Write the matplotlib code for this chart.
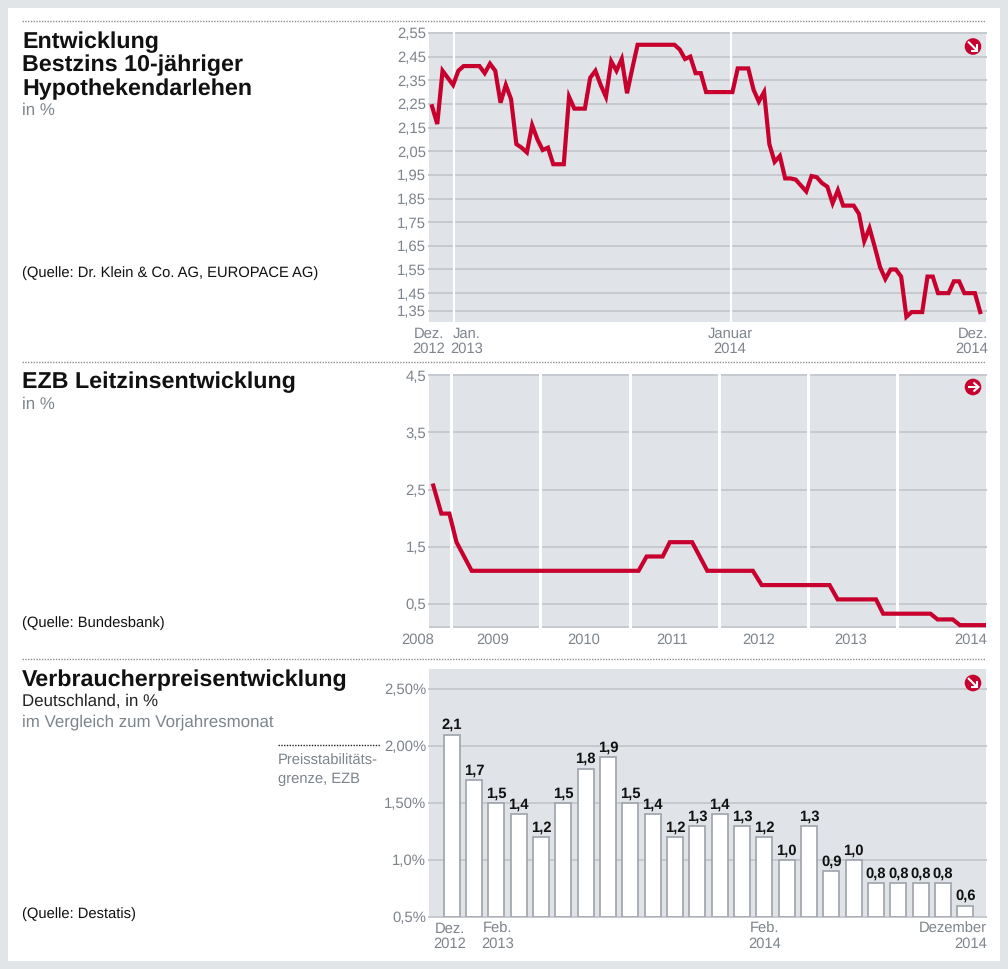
import matplotlib
matplotlib.use('Agg')
import matplotlib.pyplot as plt
from matplotlib.patches import Circle, Rectangle

plt.rcParams['font.family'] = ['Liberation Sans', 'DejaVu Sans']
plt.rcParams['text.hinting'] = 'none'

W, H = 1008, 969
RED = '#c8002e'
PLOT_BG = '#e0e3e7'
GRID = '#c6cace'
GREY_TEXT = '#7d848b'

# weekly rate, Dez. 2012 - Dez. 2014
rate_values = [
    2.24, 2.165, 2.39, 2.36, 2.33, 2.39, 2.41, 2.41, 2.41, 2.41,
    2.38, 2.42, 2.39, 2.255, 2.33, 2.27, 2.08, 2.065, 2.045, 2.16,
    2.10, 2.055, 2.065, 1.995, 1.995, 1.995, 2.28, 2.23, 2.23, 2.23,
    2.36, 2.39, 2.33, 2.28, 2.43, 2.39, 2.44, 2.295, 2.40, 2.50,
    2.50, 2.50, 2.50, 2.50, 2.50, 2.50, 2.50, 2.48, 2.44, 2.45,
    2.38, 2.38, 2.30, 2.30, 2.30, 2.30, 2.30, 2.30, 2.40, 2.40,
    2.40, 2.31, 2.26, 2.30, 2.08, 2.005, 2.03, 1.935, 1.935, 1.93,
    1.905, 1.88, 1.945, 1.94, 1.915, 1.90, 1.83, 1.885, 1.82, 1.82,
    1.82, 1.785, 1.67, 1.725, 1.645, 1.56, 1.51, 1.55, 1.55, 1.52,
    1.35, 1.37, 1.37, 1.37, 1.52, 1.52, 1.45, 1.45, 1.45, 1.50,
    1.50, 1.45, 1.45, 1.45, 1.37,
]
# the reference draws its lowest gridline a little above the true 1,35
rate_tick_values = [2.55, 2.45, 2.35, 2.25, 2.15, 2.05, 1.95, 1.85, 1.75, 1.65, 1.55, 1.45, 1.375]
rate_tick_labels = ['2,55', '2,45', '2,35', '2,25', '2,15', '2,05', '1,95', '1,85', '1,75', '1,65', '1,55', '1,45', '1,35']
rate_year_weeks = [4.1, 56.65]

ecb_years = [2008.80, 2008.89, 2008.98, 2009.06, 2009.23, 2011.10, 2011.19, 2011.37, 2011.45, 2011.70, 2011.87,
             2012.38, 2012.48, 2013.24, 2013.33, 2013.76, 2013.84, 2014.37, 2014.45, 2014.62, 2014.70, 2014.97]
ecb_values = [2.57, 2.08, 2.08, 1.58, 1.08, 1.08, 1.33, 1.33, 1.58, 1.58, 1.08,
              1.08, 0.83, 0.83, 0.58, 0.58, 0.33, 0.33, 0.23, 0.23, 0.13, 0.13]
ecb_tick_values = [4.5, 3.5, 2.5, 1.5, 0.5]
ecb_tick_labels = ['4,5', '3,5', '2,5', '1,5', '0,5']
ecb_year_lines = [2009, 2010, 2011, 2012, 2013, 2014]

cpi_values = [2.1, 1.7, 1.5, 1.4, 1.2, 1.5, 1.8, 1.9, 1.5, 1.4, 1.2, 1.3,
              1.4, 1.3, 1.2, 1.0, 1.3, 0.9, 1.0, 0.8, 0.8, 0.8, 0.8, 0.6]
cpi_tick_values = [2.5, 2.0, 1.5, 1.0, 0.5]
cpi_tick_labels = ['2,50%', '2,00%', '1,50%', '1,0%', '0,5%']


def make_axes(fig, left, top, right, bottom):
    ax = fig.add_axes([left / W, 1 - bottom / H, (right - left) / W, (bottom - top) / H])
    ax.set_facecolor(PLOT_BG)
    for spine in ax.spines.values():
        spine.set_visible(False)
    ax.tick_params(axis='x', length=0, labelbottom=False)
    ax.tick_params(axis='y', length=0, pad=2, labelsize=10.7, labelcolor=GREY_TEXT)
    ax.grid(axis='y', color=GRID, linewidth=1.4, clip_on=False)
    ax.set_axisbelow(True)
    return ax


def x_label(ax, x, text, ha='center'):
    ax.annotate(text, (x, 0), xycoords=ax.get_xaxis_transform(), xytext=(0, -3.5),
                textcoords='offset points', ha=ha, va='top', multialignment=ha,
                fontsize=10.6, color=GREY_TEXT, linespacing=1.08, annotation_clip=False)


def icon(over, x, y, direction):
    over.add_patch(Circle((x, y), 8.3, color=RED, lw=0))
    if direction == 'right':
        shaft = [(x - 5.5, x + 5), (y, y)]
        head = [(x + 0.5, x + 5.5, x + 0.5), (y - 4.5, y, y + 4.5)]
    else:
        shaft = [(x - 5, x + 4), (y - 5, y + 4)]
        head = [(x + 4, x + 4, x - 2.5), (y - 2.5, y + 4, y + 4)]
    over.plot(*shaft, color='white', linewidth=1.5, solid_capstyle='butt')
    over.plot(*head, color='white', linewidth=1.5, solid_joinstyle='miter', solid_capstyle='butt')


fig = plt.figure(figsize=(W / 100, H / 100), dpi=100, facecolor='#e1e5e8')
fig.add_artist(Rectangle((8 / W, 1 - 961 / H), 992 / W, 953 / H, transform=fig.transFigure,
                         facecolor='white', edgecolor='none', zorder=-1))

# Bestzins
ax1 = make_axes(fig, 429, 32, 986, 322)
ax1.set_xlim(-0.57, 105.1)
ax1.set_ylim(1.328, 2.554)
ax1.set_yticks(rate_tick_values, rate_tick_labels)
for week in rate_year_weeks:
    ax1.axvline(week, color='white', linewidth=1.6, zorder=1.5)
ax1.plot(range(len(rate_values)), rate_values, color=RED, linewidth=3.0, solid_joinstyle='miter', zorder=3)
x_label(ax1, -0.66, 'Dez.\n2012')
x_label(ax1, 6.6, 'Jan.\n2013')
x_label(ax1, 56.5, 'Januar\n2014')
x_label(ax1, 105.5, 'Dez.\n2014', ha='right')

# Leitzins
ax2 = make_axes(fig, 429, 374, 986, 628)
ax2.set_xlim(2008.80 - 4.3 / 89.3, 2014.97 + 2 / 89.3)
ax2.set_ylim(0.08, 4.52)
ax2.set_yticks(ecb_tick_values, ecb_tick_labels)
ax2.axhline(0.1, color=GRID, linewidth=1.4, zorder=1)
for year in ecb_year_lines:
    ax2.axvline(year, color='white', linewidth=2.2, zorder=1.5)
ax2.plot(ecb_years, ecb_values, color=RED, linewidth=3.0, solid_joinstyle='miter', zorder=3)
for x, text in [(2008.62, '2008'), (2009.47, '2009'), (2010.48, '2010'), (2011.48, '2011'), (2012.45, '2012'), (2013.48, '2013')]:
    x_label(ax2, x, text)
x_label(ax2, 2015.0, '2014', ha='right')

# Verbraucherpreise
ax3 = make_axes(fig, 429, 669, 986, 917)
ax3.set_xlim(-1.017, 23.93)
ax3.set_ylim(0.5, 2.675)
ax3.set_yticks(cpi_tick_values, cpi_tick_labels)
bars = ax3.bar(range(len(cpi_values)), [v - 0.5 for v in cpi_values], bottom=0.5, width=0.72,
               color='white', edgecolor='#a0a6ad', linewidth=1.25, zorder=3)
for i, v in enumerate(cpi_values):
    ax3.annotate(f'{v:.1f}'.replace('.', ','), (i, v), xytext=(0, 1.8), textcoords='offset points',
                 ha='center', va='bottom', fontsize=10.6, fontweight='bold', color='#111111', zorder=4)
x_label(ax3, -0.07, 'Dez.\n2012')
x_label(ax3, 2.07, 'Feb.\n2013')
x_label(ax3, 14.0, 'Feb.\n2014')
x_label(ax3, 23.98, 'Dezember\n2014', ha='right')

# overlay in pixel coordinates for the left column, rules and icons
over = fig.add_axes([0, 0, 1, 1], zorder=10)
over.set_xlim(0, W)
over.set_ylim(H, 0)
over.axis('off')

for y in [20.5, 362, 658.5]:
    over.plot([22, 986], [y, y], color='#8a8f94', linewidth=1.0, linestyle=(0, (1, 1)))
over.plot([278, 380], [745, 745], color='#222222', linewidth=1.0, linestyle=(0, (1, 1)))

for y, text in [(42.5, 'Entwicklung'), (65.5, 'Bestzins 10-jähriger'), (89.5, 'Hypothekendarlehen'),
                (382.5, 'EZB Leitzinsentwicklung'), (680.5, 'Verbraucherpreisentwicklung')]:
    over.text(22, y, text, fontsize=16.75, fontweight='bold', color='#111111', va='center')
for y, text in [(111, 'in %'), (405, 'in %'), (722, 'im Vergleich zum Vorjahresmonat')]:
    over.text(22, y, text, fontsize=12.2, color=GREY_TEXT, va='center')
over.text(22, 701, 'Deutschland, in %', fontsize=12.2, color='#222222', va='center')
for y, text in [(273, '(Quelle: Dr. Klein & Co. AG, EUROPACE AG)'), (623, '(Quelle: Bundesbank)'), (914, '(Quelle: Destatis)')]:
    over.text(22, y, text, fontsize=10.6, color='#111111', va='center')
over.text(278, 761, 'Preisstabilitäts-', fontsize=10.6, color=GREY_TEXT, va='center')
over.text(278, 779, 'grenze, EZB', fontsize=10.6, color=GREY_TEXT, va='center')

icon(over, 973, 46.5, 'down')
icon(over, 973, 387, 'right')
icon(over, 973, 683, 'down')

fig.savefig('out.png', dpi=100)
